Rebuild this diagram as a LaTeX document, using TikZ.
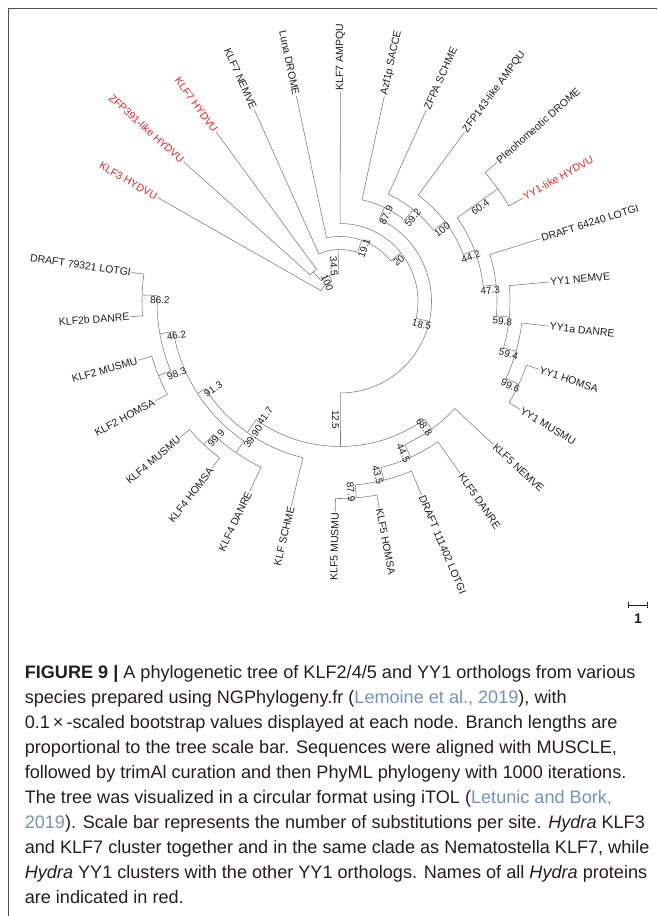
\documentclass[tikz,border=0pt]{standalone}
\usepackage{fontspec}
\setmainfont{Liberation Sans}
\usepackage{tikz}
\usetikzlibrary{calc}
\definecolor{branchgray}{HTML}{7A7A7A}
\definecolor{hydrared}{HTML}{F02020}
\definecolor{leafink}{HTML}{1E1E1E}
\definecolor{citeblue}{HTML}{7393BD}
\definecolor{framegray}{HTML}{505050}
\definecolor{capink}{HTML}{231F20}
\tikzset{
  branch/.style={draw=branchgray,line width=0.55pt},
  leaf/.style={font=\fontsize{10.5}{12}\selectfont,inner sep=1pt},
  boot/.style={font=\fontsize{10}{11}\selectfont,inner sep=1.1pt,anchor=north,text=leafink},
  frameline/.style={draw=framegray,line width=0.8pt},
  scalebar/.style={draw=leafink,line width=0.7pt},
  caption/.style={inner sep=0pt,anchor=base west,text=capink}
}

\begin{document}
\begin{tikzpicture}[x=1pt,y=1pt]
  \path[use as bounding box,fill=white] (-340,301.5) rectangle (317,-614.5);
  \coordinate (fbl) at (-332,-614.5);
  \coordinate (ftl) at (-332,293.5);
  \coordinate (ftr) at (317,293.5);
  \draw[frameline] (fbl) -- (ftl) -- (ftr);

  % inner branches: name/angle/parent radius/own radius
  \foreach \nm/\ang/\rin/\rout in {
    b100a/112.19/22/28, nA/132.18/28/40, b345/92.19/28/52, b191/70.32/52/65,
    b20/38.67/65/78, b185/-12.57/78/91.5, b879a/64.66/91.5/104, b592/51.49/104/117.5,
    b100b/37.24/117.5/132, b442/20.82/132/144, b604/35.54/144/194, b473/6.10/144/157,
    b598/-5.23/157/170, b594/-15.80/170/183, b996/-24.86/183/197,
    b125/-89.79/91.5/145, b688/-54.31/145/157, b445/-65.63/157/171, b435/-76.20/171/184,
    b879b/-85.26/184/197, b417/-125.28/145/160.5, b913/-147.17/160.5/169.5,
    b399/-124.52/169.5/183.5, b999/-133.58/183.5/197.5, b462/-169.82/169.5/183,
    b862/-181.90/183/198, b983/-157.74/183/196}{
    \coordinate (\nm-b) at (\ang:\rin);
    \coordinate (\nm) at (\ang:\rout);
    \draw[branch] (\nm-b) -- (\nm);
  }

  % leaves on the right half
  \foreach \nm/\ang/\rin/\txt/\col in {
    klf7am/89.90/78/KLF7 AMPQU/leafink,
    azf1sa/77.82/104/Azf1p SACCE/leafink,
    zfpasc/65.74/117.5/ZFPA SCHME/leafink,
    zfp143am/53.66/132/ZFP143-like AMPQU/leafink,
    pleodr/41.58/194/Pleiohomeotic DROME/leafink,
    yy1hy/29.50/194/YY1-like HYDVU/hydrared,
    dr64240/17.42/157/DRAFT 64240 LOTGI/leafink,
    yy1ne/5.34/170/YY1 NEMVE/leafink,
    yy1ada/-6.74/183/YY1a DANRE/leafink,
    yy1hs/-18.82/197/YY1 HOMSA/leafink,
    yy1mm/-30.90/197/YY1 MUSMU/leafink,
    klf5ne/-42.98/157/KLF5 NEMVE/leafink,
    klf5da/-55.06/171/KLF5 DANRE/leafink,
    dr111402/-67.14/184/DRAFT 111402 LOTGI/leafink,
    klf5hs/-79.22/197/KLF5 HOMSA/leafink}{
    \coordinate (\nm-b) at (\ang:\rin);
    \node[leaf,text=\col,anchor=west,rotate=\ang] (\nm) at (\ang:210) {\txt};
    \draw[branch] (\nm-b) -- (\nm);
  }

  % leaves on the left half
  \foreach \nm/\ang/\rin/\txt/\col in {
    klf3hy/150.30/22/KLF3 HYDVU/hydrared,
    zfp391hy/138.22/40/ZFP391-like HYDVU/hydrared,
    klf7hy/126.14/40/KLF7 HYDVU/hydrared,
    klf7ne/114.06/52/KLF7 NEMVE/leafink,
    lunadr/101.98/65/Luna DROME/leafink,
    klf5mm/-91.30/197/KLF5 MUSMU/leafink,
    klfsc/-103.38/160.5/KLF SCHME/leafink,
    klf4da/-115.46/183.5/KLF4 DANRE/leafink,
    klf4hs/-127.54/197.5/KLF4 HOMSA/leafink,
    klf4mm/-139.62/197.5/KLF4 MUSMU/leafink,
    klf2hs/-151.70/196/KLF2 HOMSA/leafink,
    klf2mm/-163.78/196/KLF2 MUSMU/leafink,
    klf2bda/-175.86/198/KLF2b DANRE/leafink,
    dr79321/-187.94/198/DRAFT 79321 LOTGI/leafink}{
    \coordinate (\nm-b) at (\ang:\rin);
    \node[leaf,text=\col,anchor=east,rotate=\ang+180] (\nm) at (\ang:210) {\txt};
    \draw[branch] (\nm-b) -- (\nm);
  }

  % arcs: first child/start angle/end angle/radius
  \foreach \first/\a/\b/\r in {
    klf3hy/150.30/112.19/22, nA/132.18/92.19/28, zfp391hy/138.22/126.14/40,
    klf7ne/114.06/70.32/52, lunadr/101.98/38.67/65, klf7am/89.90/-12.57/78,
    b879a/64.66/-89.79/91.5, azf1sa/77.82/51.49/104, zfpasc/65.74/37.24/117.5,
    zfp143am/53.66/20.82/132, b604/35.54/6.10/144, pleodr/41.58/29.50/194,
    dr64240/17.42/-5.23/157, yy1ne/5.34/-15.80/170, yy1ada/-6.74/-24.86/183,
    yy1hs/-18.82/-30.90/197, b417/-125.28/-54.31/145, b445/-65.63/-42.98/157,
    b435/-76.20/-55.06/171, b879b/-85.26/-67.14/184, klf5mm/-91.30/-79.22/197,
    b913/-147.17/-103.38/160.5, b462/-169.82/-124.52/169.5, b999/-133.58/-115.46/183.5,
    klf4mm/-139.62/-127.54/197.5, b862/-181.90/-157.74/183, dr79321/-187.94/-175.86/198,
    klf2mm/-163.78/-151.70/196}{
    \draw[branch] (\first-b) arc[start angle=\a,end angle=\b,radius=\r];
  }

  % bootstrap values
  \foreach \nm/\ang/\lr/\rot/\txt in {
    b191/70.32/58.5/70.32/19.1, b20/38.67/71.5/38.67/20, b185/-12.57/84.75/-12.57/18.5,
    b879a/64.66/97.75/64.66/87.9, b592/51.49/110.75/51.49/59.2, b100b/37.24/124.75/37.24/100,
    b442/20.82/138/20.82/44.2, b604/35.54/169/35.54/60.4, b473/6.10/150.5/6.10/47.3,
    b598/-5.23/163.5/-5.23/59.8, b594/-15.80/176.5/-15.80/59.4, b996/-24.86/190/-24.86/99.6,
    b125/-89.79/118.25/-89.79/12.5, b688/-54.31/151/-54.31/68.8, b445/-65.63/164/-65.63/44.5,
    b435/-76.20/177.5/-76.20/43.5, b879b/-85.26/190.5/-85.26/87.9,
    b345/92.19/35.5/272.19/34.5, b100a/112.19/22/292.19/100,
    b417/-125.28/136.5/54.72/41.7, b913/-147.17/154/32.83/91.3,
    b399/-124.52/160.5/55.48/39.90, b999/-133.58/184.5/46.42/99.9,
    b462/-169.82/167/10.18/46.2, b862/-181.90/180/-1.90/86.2, b983/-157.74/178.5/22.26/98.3}{
    \node[boot,rotate=\rot] (\nm-l) at (\ang:\lr) {\txt};
  }

  % scale bar
  \coordinate (sbl) at (288.5,-303.5);
  \coordinate (sbr) at (307.5,-303.5);
  \draw[scalebar] (sbl) -- (sbr);
  \draw[scalebar] ([yshift=-3]sbl) -- ([yshift=3]sbl);
  \draw[scalebar] ([yshift=-3]sbr) -- ([yshift=3]sbr);
  \node[font=\bfseries\fontsize{14}{14}\selectfont,text=leafink] (sblab) at (298,-317) {1};

  \node[caption] (cap) at (-315.4,-376.8) {\begin{minipage}[t]{628pt}\fontsize{18.1}{25}\selectfont\raggedright
    {\bfseries FIGURE 9 |} A phylogenetic tree of KLF2/4/5 and YY1 orthologs from various\\
    species prepared using NGPhylogeny.fr ({\color{citeblue}Lemoine et al., 2019}), with\\
    0.1\,×\,-scaled bootstrap values displayed at each node. Branch lengths are\\
    proportional to the tree scale bar. Sequences were aligned with MUSCLE,\\
    followed by trimAl curation and then PhyML phylogeny with 1000 iterations.\\
    The tree was visualized in a circular format using iTOL ({\color{citeblue}Letunic and Bork,}\\
    {\color{citeblue}2019}). Scale bar represents the number of substitutions per site. \textit{Hydra} KLF3\\
    and KLF7 cluster together and in the same clade as Nematostella KLF7, while\\
    \textit{Hydra} YY1 clusters with the other YY1 orthologs. Names of all \textit{Hydra} proteins\\
    are indicated in red.
  \end{minipage}};
\end{tikzpicture}
\end{document}
